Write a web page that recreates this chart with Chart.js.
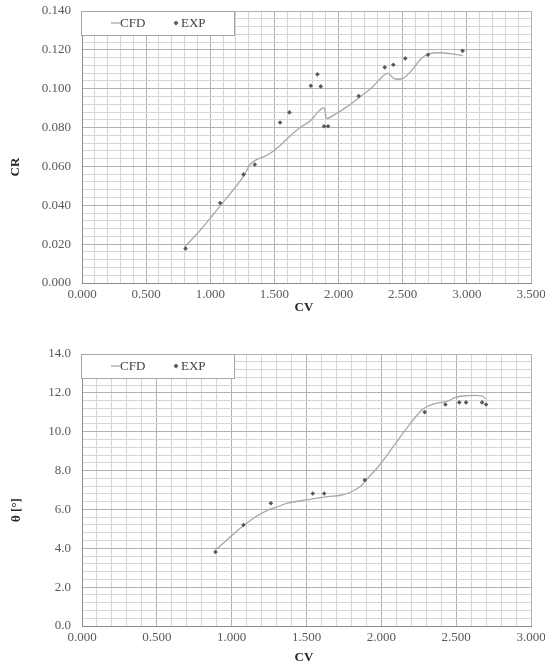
<!DOCTYPE html>
<html>
<head>
<meta charset="utf-8">
<script src="https://cdn.jsdelivr.net/npm/chart.js@4.4.1/dist/chart.umd.min.js"></script>
<style>
  html, body { margin: 0; padding: 0; background: #fff; }
  canvas { display: block; }
</style>
</head>
<body>
<canvas id="crChart" width="545" height="320"></canvas>
<canvas id="thetaChart" width="545" height="346"></canvas>
<script>
// --- CR vs CV ---
const crCfdX = [0.807, 0.92, 1.02, 1.08, 1.18, 1.26, 1.31, 1.36, 1.45, 1.54, 1.62, 1.70, 1.78, 1.83, 1.87, 1.89, 1.902, 1.915, 1.99, 2.09, 2.17, 2.25, 2.35, 2.39, 2.43, 2.50, 2.56, 2.635, 2.70, 2.79, 2.89, 2.967];
const crCfdY = [0.019, 0.027, 0.035, 0.040, 0.048, 0.055, 0.061, 0.0635, 0.066, 0.0705, 0.0755, 0.080, 0.0835, 0.0873, 0.0899, 0.0899, 0.0852, 0.0847, 0.0875, 0.0918, 0.096, 0.100, 0.1068, 0.1078, 0.1053, 0.1053, 0.1087, 0.1148, 0.1179, 0.1185, 0.1179, 0.1170];
const crExpX = [0.807, 1.077, 1.259, 1.347, 1.544, 1.617, 1.784, 1.835, 1.861, 1.887, 1.918, 2.157, 2.360, 2.427, 2.520, 2.697, 2.967];
const crExpY = [0.0177, 0.0412, 0.0559, 0.0610, 0.0826, 0.0878, 0.1015, 0.1074, 0.1012, 0.0807, 0.0807, 0.0962, 0.1110, 0.1123, 0.1156, 0.1175, 0.1195];

// --- theta vs CV ---
const thCfdX = [0.892, 0.968, 1.057, 1.146, 1.235, 1.30, 1.37, 1.50, 1.64, 1.73, 1.79, 1.86, 1.90, 1.99, 2.08, 2.17, 2.26, 2.30, 2.37, 2.44, 2.50, 2.57, 2.67, 2.70];
const thCfdY = [3.92, 4.43, 5.03, 5.55, 5.94, 6.12, 6.32, 6.49, 6.66, 6.73, 6.87, 7.18, 7.52, 8.30, 9.24, 10.19, 11.04, 11.27, 11.47, 11.56, 11.78, 11.85, 11.85, 11.68];
const thExpX = [0.892, 1.079, 1.262, 1.542, 1.618, 1.890, 2.290, 2.428, 2.521, 2.566, 2.673, 2.700];
const thExpY = [3.81, 5.20, 6.32, 6.82, 6.82, 7.51, 11.01, 11.40, 11.51, 11.51, 11.51, 11.40];

const seriesNames = ["CFD", "EXP"];

const FONT = "'Liberation Serif', 'Times New Roman', serif";
const LINE_COLOR = "#a8a8a8";
const MARK_COLOR = "#595959";

function toPoints(xs, ys) {
    return xs.map((x, i) => ({ x: x, y: ys[i] }));
}

function isMultiple(v, step) {
    const r = v / step;
    return Math.abs(r - Math.round(r)) < 1e-6;
}

// no extra room for label overhang, the layout padding decides the plot box
function noOverhang(s) {
    s.paddingLeft = 0;
    s.paddingRight = 0;
    s.paddingTop = 0;
    s.paddingBottom = 0;
}

// legend box drawn inside the plot, top-left, like the Excel original
const insideLegend = {
    id: "insideLegend",
    afterDraw(chart) {
        const ctx = chart.ctx;
        const a = chart.chartArea;
        const x = a.left - 1, y = a.top, w = 153, h = 24;
        ctx.save();
        ctx.fillStyle = "#fff";
        ctx.fillRect(x, y, w, h);
        ctx.strokeStyle = "#a6a6a6";
        ctx.lineWidth = 1;
        ctx.strokeRect(x + 0.5, y + 0.5, w, h);
        const cy = y + 12;
        ctx.strokeStyle = LINE_COLOR;
        ctx.lineWidth = 1.3;
        ctx.beginPath();
        ctx.moveTo(x + 30, cy);
        ctx.lineTo(x + 39, cy);
        ctx.stroke();
        ctx.font = "13px " + FONT;
        ctx.fillStyle = "#404040";
        ctx.textBaseline = "middle";
        ctx.fillText(seriesNames[0], x + 39, cy + 1);
        ctx.fillStyle = MARK_COLOR;
        ctx.beginPath();
        ctx.moveTo(x + 95, cy - 2.5);
        ctx.lineTo(x + 97.5, cy);
        ctx.lineTo(x + 95, cy + 2.5);
        ctx.lineTo(x + 92.5, cy);
        ctx.closePath();
        ctx.fill();
        ctx.fillStyle = "#404040";
        ctx.fillText(seriesNames[1], x + 100, cy + 1);
        ctx.restore();
    }
};

// axis titles placed where Excel put them
const axisTitles = {
    id: "axisTitles",
    afterDraw(chart, args, opts) {
        const ctx = chart.ctx;
        ctx.save();
        ctx.font = "bold 13px " + FONT;
        ctx.fillStyle = "#262626";
        ctx.textAlign = "center";
        ctx.textBaseline = "middle";
        ctx.fillText(opts.xText, opts.xPos[0], opts.xPos[1]);
        ctx.translate(opts.yPos[0], opts.yPos[1]);
        ctx.rotate(-Math.PI / 2);
        ctx.fillText(opts.yText, 0, 0);
        ctx.restore();
    }
};

function makeChart(id, cfd, exp, cfg) {
    return new Chart(document.getElementById(id), {
        type: "scatter",
        data: {
            datasets: [
                {
                    label: seriesNames[0],
                    data: cfd,
                    showLine: true,
                    borderColor: LINE_COLOR,
                    borderWidth: 1.3,
                    tension: 0.3,
                    pointRadius: 0,
                    order: 2
                },
                {
                    label: seriesNames[1],
                    data: exp,
                    pointStyle: "rectRot",
                    pointRadius: 2.3,
                    backgroundColor: MARK_COLOR,
                    borderColor: MARK_COLOR,
                    borderWidth: 0,
                    order: 1
                }
            ]
        },
        options: {
            responsive: false,
            animation: false,
            layout: { padding: { left: 0, right: 14, top: cfg.padTop, bottom: 0 } },
            plugins: {
                legend: { display: false },
                tooltip: { enabled: false },
                axisTitles: cfg.titles
            },
            scales: {
                x: {
                    type: "linear",
                    min: 0,
                    max: cfg.xMax,
                    afterFit: (s) => { s.height = cfg.xHeight; noOverhang(s); },
                    ticks: {
                        stepSize: 0.1,
                        autoSkip: false,
                        maxRotation: 0,
                        padding: 4,
                        color: "#595959",
                        font: { family: FONT, size: 13 },
                        callback: (v) => isMultiple(v, 0.5) ? v.toFixed(3) : ""
                    },
                    grid: {
                        drawTicks: false,
                        color: (c) => isMultiple(c.tick.value, 0.5) ? "#b3b3b3" : "#d6d6d6"
                    },
                    border: { color: "#8c8c8c", width: 1 }
                },
                y: {
                    type: "linear",
                    min: 0,
                    max: cfg.yMax,
                    afterFit: (s) => { s.width = 82; noOverhang(s); },
                    ticks: {
                        stepSize: cfg.yMinor,
                        autoSkip: false,
                        padding: 11,
                        color: "#595959",
                        font: { family: FONT, size: 13 },
                        callback: (v) => isMultiple(v, cfg.yMajor) ? v.toFixed(cfg.yDigits) : ""
                    },
                    grid: {
                        drawTicks: false,
                        color: (c) => isMultiple(c.tick.value, cfg.yMajor) ? "#b3b3b3" : "#d6d6d6"
                    },
                    border: { color: "#8c8c8c", width: 1 }
                }
            }
        },
        plugins: [insideLegend, axisTitles]
    });
}

makeChart("crChart", toPoints(crCfdX, crCfdY), toPoints(crExpX, crExpY), {
    padTop: 11, xHeight: 37, xMax: 3.5, yMax: 0.14, yMajor: 0.02, yMinor: 0.004, yDigits: 3,
    titles: { xText: "CV", xPos: [304, 308], yText: "CR", yPos: [16, 167] }
});

makeChart("thetaChart", toPoints(thCfdX, thCfdY), toPoints(thExpX, thExpY), {
    padTop: 34, xHeight: 40, xMax: 3.0, yMax: 14, yMajor: 2, yMinor: 0.4, yDigits: 1,
    titles: { xText: "CV", xPos: [304, 338], yText: "θ [°]", yPos: [17, 190] }
});
</script>
</body>
</html>
